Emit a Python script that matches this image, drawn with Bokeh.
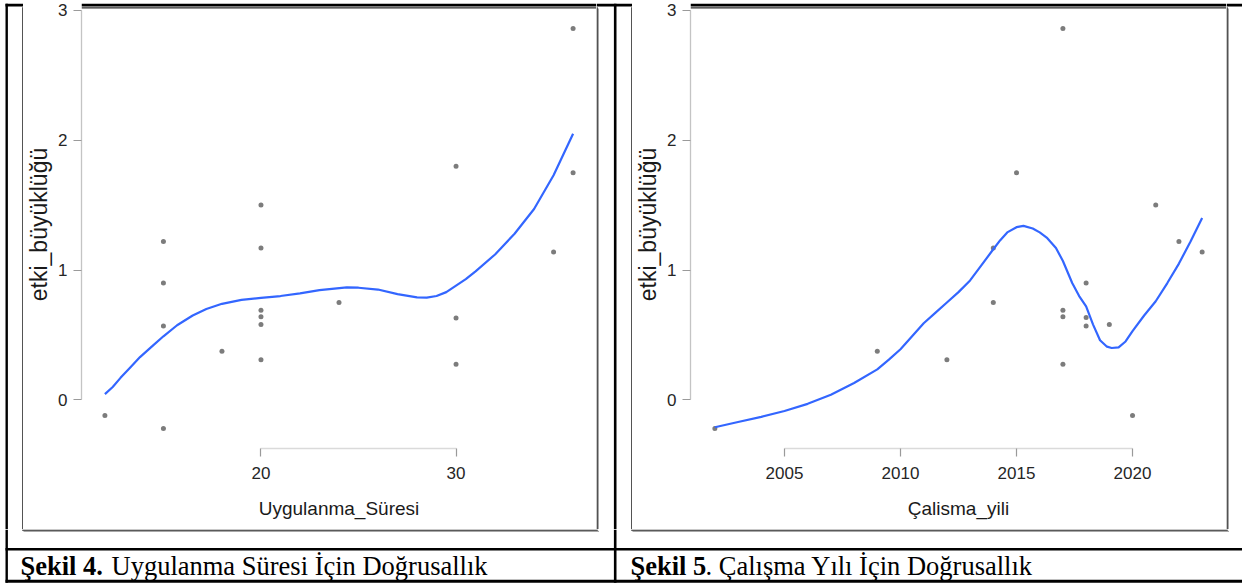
from bokeh.plotting import figure
from bokeh.layouts import row, column
from bokeh.models import Range1d, Label, FixedTicker
from bokeh.embed import file_html
from bokeh.resources import INLINE

# ---------------- data ----------------
dur_x = [12, 15, 15, 15, 15, 18, 20, 20, 20, 20, 20, 20, 24, 30, 30, 30, 35, 36, 36]
dur_y = [-0.12, -0.22, 1.22, 0.90, 0.57, 0.375, 1.50, 1.17, 0.69, 0.64, 0.58, 0.31,
         0.75, 1.80, 0.63, 0.275, 1.14, 2.86, 1.75]
dur_fit_x = [12, 12.4, 12.8, 13.3, 13.8, 14.4, 15, 15.7, 16.5, 17.2, 18, 19, 20, 21, 22, 23,
             24.4, 25, 26, 27, 28, 28.5, 29, 29.5, 30, 30.5, 31, 32, 33, 34, 35, 36]
dur_fit_y = [0.045, 0.10, 0.17, 0.25, 0.33, 0.41, 0.49, 0.575, 0.65, 0.70, 0.74, 0.77, 0.786,
             0.80, 0.82, 0.845, 0.866, 0.864, 0.85, 0.815, 0.79, 0.788, 0.80, 0.83, 0.88,
             0.93, 0.99, 1.12, 1.28, 1.47, 1.73, 2.05]

yr_x = [2002, 2009, 2012, 2014, 2014, 2015, 2017, 2017, 2017, 2017, 2018, 2018, 2018,
        2019, 2020, 2021, 2022, 2023]
yr_y = [-0.22, 0.375, 0.31, 0.75, 1.17, 1.75, 2.86, 0.69, 0.64, 0.275, 0.90, 0.635, 0.57,
        0.58, -0.12, 1.50, 1.22, 1.14]
yr_fit_x = [2002, 2003, 2004, 2005, 2006, 2007, 2008, 2009, 2009.5, 2010, 2010.5, 2011,
            2011.5, 2012, 2012.5, 2013, 2013.5, 2014, 2014.3, 2014.6, 2015.0, 2015.3, 2015.7,
            2016, 2016.3, 2016.7, 2017, 2017.4, 2017.7, 2018, 2018.3, 2018.6, 2018.9, 2019.1,
            2019.4, 2019.7, 2020, 2020.5, 2021, 2021.5, 2022, 2022.5, 2023]
yr_fit_y = [-0.21, -0.17, -0.13, -0.085, -0.03, 0.04, 0.13, 0.235, 0.31, 0.39, 0.49, 0.59,
            0.67, 0.75, 0.83, 0.92, 1.04, 1.16, 1.23, 1.29, 1.33, 1.34, 1.32, 1.29, 1.25,
            1.17, 1.07, 0.90, 0.80, 0.72, 0.58, 0.46, 0.41, 0.40, 0.405, 0.45, 0.53, 0.65,
            0.76, 0.90, 1.05, 1.22, 1.40]

y_ticks = [0, 1, 2, 3]
dur_ticks = [20, 30]
yr_ticks = [2005, 2010, 2015, 2020]

y_label = "etki_büyüklüğü"
dur_label = "Uygulanma_Süresi"
yr_label = "Çalisma_yili"

cap4_bold, cap4_rest = "Şekil 4.", "Uygulanma Süresi İçin Doğrusallık"
cap5_bold, cap5_rest = "Şekil 5", ". Çalışma Yılı İçin Doğrusallık"

# ---------------- page geometry (pixels, y down) ----------------
W, H = 1242, 583
MID_Y1 = 529           # bottom of the upper row
AX_Y = 448             # x axis line (bottom of plot frames)
PX_PER_UNIT = 129.87   # vertical scale of the effect-size axis
SANS = "Liberation Sans"
SERIF = "Liberation Serif"
DARK = "#2a2a2a"
SHADOW = "#a8a8a8"


def strip(x0, x1, y0, y1):
    """A blank figure whose frame is its whole canvas, with page-pixel coordinates."""
    s = figure(frame_width=x1 - x0, frame_height=y1 - y0,
               x_range=Range1d(x0, x1), y_range=Range1d(y1, y0),
               x_axis_type=None, y_axis_type=None, output_backend="svg",
               toolbar_location=None, min_border=0, title=None)
    s.frame_align = False
    s.outline_line_color = None
    s.background_fill_color = "white"
    s.border_fill_color = "white"
    return s


def rect(s, x0, x1, y0, y1, color, **kw):
    s.quad(left=[x0], right=[x1], top=[y0], bottom=[y1], fill_color=color, line_color=None, **kw)


def make_plot(x0, x1, frame_left, xr, xticks, xbounds, xlabel, px, py, fx, fy):
    y_top = 3.014 + 8 / PX_PER_UNIT       # frame reaches the top of the page
    p = figure(width=x1 - x0, height=MID_Y1,
               x_range=Range1d(*xr), y_range=Range1d(-0.374, y_top),
               output_backend="svg", toolbar_location=None, title=None,
               min_border_left=frame_left - x0, min_border_right=0,
               min_border_top=0, min_border_bottom=MID_Y1 - AX_Y)
    p.frame_align = False
    p.outline_line_color = None
    p.grid.visible = False
    p.background_fill_color = "white"
    p.border_fill_color = "white"
    # page-pixel coordinates inside the frame, for the table rule and image edge
    p.extra_x_ranges = {"px": Range1d(frame_left, x1)}
    p.extra_y_ranges = {"px": Range1d(AX_Y, 0)}

    p.xaxis.ticker = FixedTicker(ticks=xticks)
    p.yaxis.ticker = FixedTicker(ticks=y_ticks)
    p.xaxis.bounds = xbounds
    p.yaxis.bounds = (0, 3)
    for ax in (p.xaxis, p.yaxis):
        ax.minor_tick_line_color = None
        ax.major_tick_in = 0
        ax.major_tick_out = 8
        ax.major_tick_line_color = "#9a9a9a"
        ax.major_tick_line_width = 1.2
        ax.major_label_text_font = SANS
        ax.major_label_text_font_size = "17px"
        ax.major_label_text_color = "#262626"
        ax.axis_label_text_font = SANS
        ax.axis_label_text_font_style = "normal"
        ax.axis_label_text_color = "#1a1a1a"
    p.yaxis.major_label_standoff = 6
    p.xaxis.major_label_standoff = 10
    p.xaxis.axis_line_color = "#dadada"
    p.yaxis.axis_line_color = "#c4c4c4"
    p.xaxis.axis_line_width = 1.3
    p.yaxis.axis_line_width = 1.3
    p.xaxis.axis_label = xlabel
    p.yaxis.axis_label = y_label
    p.xaxis.axis_label_text_font_size = "19px"
    p.yaxis.axis_label_text_font_size = "23px"
    p.xaxis.axis_label_standoff = 16
    p.yaxis.axis_label_standoff = 3

    p.scatter(px, py, size=5, fill_color="#7c7c7c", line_color=None)
    p.line(fx, fy, line_color="#3366FF", line_width=2.2, line_join="round")

    rect(p, frame_left, x1, 3.3, 6.0, "black", x_range_name="px", y_range_name="px")
    rect(p, frame_left, x1, 6.7, 8.0, DARK, x_range_name="px", y_range_name="px")
    return p


# ---- plots (the two R images) ----
P1 = make_plot(23, 596, 79, (10.8, 37.2), dur_ticks, (20, 30), dur_label,
               dur_x, dur_y, dur_fit_x, dur_fit_y)
P2 = make_plot(632, 1226, 690, (2000.95, 2024.05), yr_ticks, (2005, 2020), yr_label,
               yr_x, yr_y, yr_fit_x, yr_fit_y)

# ---- side strips (full height of the upper row) ----
L1 = strip(0, 23, 0, MID_Y1)
rect(L1, 5, 23, 3.3, 6.0, "black")
rect(L1, 5, 7.4, 3.3, MID_Y1, "black")
rect(L1, 21.7, 23, 6.7, MID_Y1, DARK)

R1 = strip(596, 632, 0, MID_Y1)
rect(R1, 596, 632, 3.3, 6.0, "black")
rect(R1, 597.3, 598.5, 8, MID_Y1, SHADOW)
rect(R1, 596, 597.3, 6.7, MID_Y1, DARK)
rect(R1, 613.4, 616.0, 3.3, MID_Y1, "black")
rect(R1, 630.7, 632, 6.7, MID_Y1, DARK)

R2 = strip(1226, W, 0, MID_Y1)
rect(R2, 1226, W, 3.3, 6.0, "black")
rect(R2, 1227.3, 1228.5, 8, MID_Y1, SHADOW)
rect(R2, 1226, 1227.3, 6.7, MID_Y1, DARK)

# ---- bottom strip with captions ----
B = strip(0, W, MID_Y1, H)
rect(B, 23, 598.5, 530.3, 531.5, SHADOW)
rect(B, 632, 1228.5, 530.3, 531.5, SHADOW)
rect(B, 21.7, 597.3, 529, 530.3, DARK)           # image 1 bottom edge
rect(B, 630.7, 1227.3, 529, 530.3, DARK)         # image 2 bottom edge
rect(B, 5, W, 547.6, 550.0, "black")             # rule under the images
rect(B, 5, W, 579.3, 582.2, "black")             # table bottom rule
rect(B, 5, 7.4, MID_Y1, 582.2, "black")
rect(B, 613.4, 616.0, MID_Y1, 582.2, "black")

CAP_Y = 565
for (cx, txt, style) in [(20, cap4_bold, "bold"), (111, cap4_rest, "normal"),
                         (630, cap5_bold, "bold"), (705, cap5_rest, "normal")]:
    B.add_layout(Label(x=cx, y=CAP_Y, text=txt, text_font=SERIF, text_font_style=style,
                       text_font_size="26.5px", text_color="black",
                       text_baseline="alphabetic", text_align="left"))

layout = column(row(L1, P1, R1, P2, R2, spacing=0), B, spacing=0)
open("out.html", "w").write(file_html(layout, INLINE))
